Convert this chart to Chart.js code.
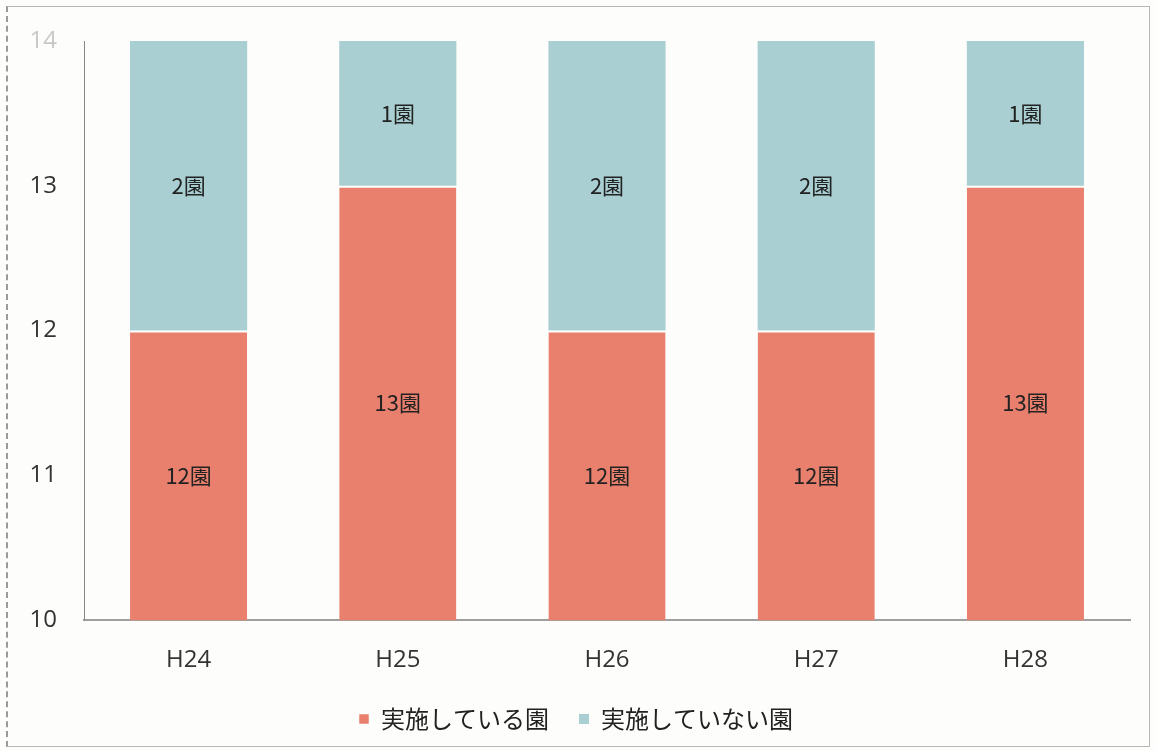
<!DOCTYPE html>
<html>
<head>
<meta charset="utf-8">
<script src="https://cdn.jsdelivr.net/npm/chart.js@4/dist/chart.umd.min.js"></script>
<style>
  html, body { margin: 0; padding: 0; background: #fdfdfb; }
  #wrap { position: relative; width: 1156px; height: 751px; box-sizing: border-box; }
  #frame { position: absolute; left: 6px; top: 6px; right: 6px; bottom: 4px; border: 1px solid #b8b8b8; border-left: 2px dashed #9a9a9a; pointer-events: none; }
</style>
</head>
<body>
<div id="wrap">
  <canvas id="chart" width="1156" height="751"></canvas>
  <div id="frame"></div>
</div>
<script>
  const years = ['H24', 'H25', 'H26', 'H27', 'H28']
  const done = [12, 13, 12, 12, 13]
  const notDone = [2, 1, 2, 2, 1]
  const yTicks = [10, 11, 12, 13, 14]

  // draws "12園" etc. in the middle of each segment
  const segLabels = {
    id: 'segLabels',
    afterDatasetsDraw(chart) {
      const ctx = chart.ctx
      ctx.save()
      ctx.font = '22px "Noto Sans CJK JP"'
      ctx.fillStyle = '#222'
      ctx.textAlign = 'center'
      ctx.textBaseline = 'middle'
      chart.data.datasets.forEach((ds, i) => {
        chart.getDatasetMeta(i).data.forEach((bar, j) => {
          const top = bar.y
          const bottom = Math.min(bar.base, chart.chartArea.bottom)
          ctx.fillText(ds.data[j] + '園', bar.x, (top + bottom) / 2)
        })
      })
      ctx.restore()
    }
  }

  new Chart(
    document.getElementById('chart'),
    {
      type: 'bar',
      data: {
        labels: years,
        datasets: [
          {
            label: '実施している園',
            data: done,
            backgroundColor: '#e8806d',
            borderColor: '#ffffff',
            borderWidth: { top: 2 },
            borderSkipped: false,
            categoryPercentage: 1.0,
            barPercentage: 0.56
          },
          {
            label: '実施していない園',
            data: notDone,
            backgroundColor: '#a9cfd2',
            borderColor: '#ffffff',
            borderWidth: 0,
            categoryPercentage: 1.0,
            barPercentage: 0.56
          }
        ]
      },
      options: {
        responsive: false,
        animation: false,
        layout: { padding: { left: 22, right: 26, top: 41, bottom: 10 } },
        plugins: {
          tooltip: { enabled: false },
          legend: {
            position: 'bottom',
            labels: {
              boxWidth: 10,
              boxHeight: 10,
              padding: 30,
              color: '#222',
              font: { family: '"Noto Sans CJK JP"', size: 24 }
            }
          }
        },
        scales: {
          x: {
            stacked: true,
            grid: { display: false },
            border: { color: '#a0a0a0', width: 2 },
            afterFit: axis => { axis.height = axis.height - 16 },
            ticks: {
              padding: 18,
              color: '#333',
              font: { family: '"Open Sans"', size: 24 }
            }
          },
          y: {
            stacked: true,
            min: 10,
            max: 14,
            grid: { display: false },
            border: { color: '#888', width: 1 },
            afterBuildTicks: axis => { axis.ticks = yTicks.map(v => ({ value: v })) },
            afterFit: axis => { axis.width = 62 },
            ticks: {
              padding: 19,
              color: ctx => ctx.tick.value === 14 ? '#c8c8c8' : '#333',
              font: { family: '"Open Sans"', size: 24 }
            }
          }
        }
      },
      plugins: [segLabels]
    }
  );
</script>
</body>
</html>
